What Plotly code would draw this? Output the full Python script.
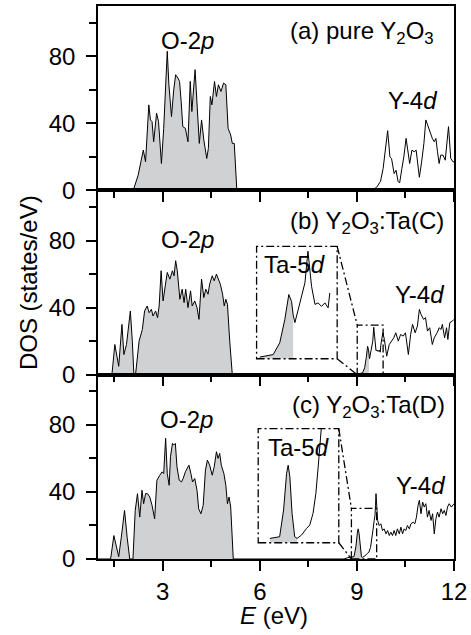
import plotly.graph_objects as go

# ---------------- data ----------------
# (a) pure Y2O3
E_a = [1.0, 2.09, 2.24, 2.35, 2.40, 2.47, 2.57, 2.62, 2.67, 2.72, 2.81, 2.87, 2.96, 3.03, 3.14, 3.19,
       3.27, 3.34, 3.40, 3.47, 3.52, 3.57, 3.62, 3.70, 3.78, 3.85, 3.90, 4.00, 4.08, 4.13, 4.20, 4.27,
       4.36, 4.41, 4.47, 4.52, 4.60, 4.66, 4.72, 4.80, 4.88, 4.95, 5.02, 5.10, 5.15, 5.21, 5.29,
       9.455, 9.61, 9.73, 9.81, 9.89, 9.95, 10.02, 10.07, 10.15, 10.21, 10.27, 10.32, 10.39, 10.45,
       10.52, 10.58, 10.63, 10.70, 10.77, 10.83, 10.88, 10.93, 11.00, 11.07, 11.13, 11.18, 11.23,
       11.28, 11.33, 11.39, 11.44, 11.49, 11.54, 11.59, 11.66, 11.73, 11.83, 11.90, 11.97, 12.0]
dos_a = [0, 0, 9, 20, 24, 17, 51, 42, 41, 29, 46, 41, 16, 37, 83, 63,
         44, 60, 69, 67, 65, 53, 38, 37, 29, 65, 47, 72, 47, 28, 42, 30,
         19, 25, 56, 51, 65, 56, 63, 59, 64, 63, 37, 33, 28, 28, 0,
         0, 1.8, 5.4, 13, 27, 35.6, 20, 19, 10, 12, 5.4, 4.4, 13, 20,
         31, 22, 16, 24, 23, 24, 17, 7.8, 17, 28, 42, 39, 36,
         34, 31, 29, 31, 23, 16, 21, 21, 18, 38, 19, 17, 17]

# (b) Y2O3:Ta(C)
E_b = [1.0, 1.43, 1.52, 1.57, 1.64, 1.74, 1.80, 1.88, 2.00, 2.06, 2.11, 2.16, 2.27, 2.37, 2.44, 2.52,
       2.58, 2.65, 2.70, 2.78, 2.84, 2.89, 2.95, 3.01, 3.08, 3.14, 3.22, 3.30, 3.35, 3.40, 3.45, 3.53,
       3.60, 3.66, 3.71, 3.78, 3.86, 3.91, 3.99, 4.06, 4.12, 4.20, 4.27, 4.33, 4.40, 4.45, 4.53, 4.59,
       4.66, 4.72, 4.78, 4.85, 4.90, 4.95, 5.00, 5.07, 5.15,
       9.0, 9.043, 9.175, 9.24, 9.29, 9.33, 9.357, 9.373, 9.39, 9.44, 9.49, 9.52, 9.556, 9.59, 9.62,
       9.655, 9.688, 9.72, 9.737,
       9.80, 9.85, 9.92, 10.0, 10.07, 10.14, 10.20, 10.28, 10.35, 10.43, 10.50, 10.59, 10.66, 10.72,
       10.80, 10.87, 10.93, 10.98, 11.06, 11.12, 11.18, 11.25, 11.33, 11.39, 11.48, 11.54, 11.60,
       11.64, 11.71, 11.77, 11.81, 11.87, 11.95, 12.0]
dos_b = [0, 0, 18, 12, 5, 30, 12, 18, 38, 20, 0, 0, 20, 27, 38, 41,
         37, 39, 35, 38, 34, 41, 62, 44, 54, 61, 57, 62, 59, 68, 62, 45,
         51, 43, 51, 40, 50, 41, 44, 40, 33, 57, 46, 51, 48, 54, 59, 56,
         60, 57, 54, 48, 41, 45, 42, 20, 0,
         0, 0.45, 1.1, 4.2, 10.3, 16.9, 15.1, 11.6, 9.5, 14.7, 20, 28.3, 19, 14.3, 14.7,
         13.8, 14.7, 13.4, 17.3,
         25, 21, 11, 18, 20, 22, 25, 20, 24, 23, 25, 12, 24, 30,
         25, 29, 39, 36, 33, 34, 26, 28, 18, 22, 25, 28, 27,
         30, 22, 28, 21, 31, 32, 33]

# (c) Y2O3:Ta(D)
E_c = [1.0, 1.39, 1.49, 1.57, 1.64, 1.72, 1.82, 1.90, 1.98, 2.08, 2.15, 2.22, 2.29, 2.36, 2.41, 2.47,
       2.53, 2.60, 2.67, 2.75, 2.82, 2.91, 2.98, 3.03, 3.09, 3.14, 3.20, 3.24, 3.30, 3.34, 3.39, 3.44,
       3.51, 3.58, 3.63, 3.70, 3.76, 3.81, 3.87, 3.92, 3.99, 4.06, 4.11, 4.18, 4.25, 4.32, 4.38, 4.45,
       4.53, 4.59, 4.66, 4.71, 4.76, 4.81, 4.89, 4.95, 5.00, 5.05, 5.10, 5.18,
       8.6, 8.76, 8.91, 8.97, 9.016, 9.04, 9.066, 9.10, 9.14, 9.177, 9.245, 9.32, 9.37, 9.42, 9.463,
       9.499, 9.534, 9.559, 9.575, 9.59, 9.64, 9.69, 9.74, 9.79, 9.84, 9.90, 9.95, 10.0, 10.05, 10.10,
       10.15, 10.20, 10.25, 10.31, 10.36, 10.41, 10.46, 10.51, 10.56, 10.62, 10.67, 10.74, 10.79,
       10.84, 10.89, 10.93, 10.98, 11.03, 11.08, 11.13, 11.18, 11.23, 11.29, 11.34, 11.39, 11.44,
       11.49, 11.54, 11.60, 11.65, 11.70, 11.75, 11.80, 11.85, 11.92, 12.0]
dos_c = [0, 0, 14, 7, 1.4, 13, 29, 13, 0, 0, 29, 39, 25, 41, 33, 39,
         39, 37, 32, 24, 47, 50, 52, 51, 72, 51, 44, 61, 69, 68, 69, 55,
         47, 46, 48, 52, 54, 56, 51, 46, 48, 41, 30, 27, 32, 53, 59, 56,
         50, 55, 64, 60, 63, 56, 51, 44, 33, 37, 31, 0,
         0, 1.0, 1.4, 7.6, 16.1, 18, 15.3, 6.8, 1.4, 1.0, 1.8, 3.3, 4.1, 6.8, 11.4,
         17.6, 23, 26.1, 32, 39, 23, 20, 21, 17, 18, 15, 17, 14, 16, 14,
         17, 14, 18, 15, 19, 15, 18, 17, 20, 18, 21, 22, 21,
         25, 32, 35, 27, 34, 31, 33, 25, 29, 23, 27, 15, 24,
         28, 25, 30, 27, 29, 26, 31, 33, 31, 33]

# shaded (occupied / Ta) energy windows
fill_a = [(1.0, 5.4)]
fill_b = [(1.0, 5.4), (9.0, 9.373)]
fill_c = [(1.0, 5.4), (8.76, 9.177)]
# energy windows shown magnified in the insets
inset_b_window = (9.04, 9.74)
inset_c_window = (8.76, 9.58)

GREY = "rgb(208,209,211)"
FONT = "Liberation Sans, Arial, Helvetica, sans-serif"
FS = 24


def subset(E, D, lo, hi):
    xs, ys = [], []
    for e, d in zip(E, D):
        if lo <= e <= hi:
            xs.append(e)
            ys.append(d)
    return xs, ys


fig = go.Figure()

panels = [("x", "y", E_a, dos_a, fill_a), ("x2", "y2", E_b, dos_b, fill_b), ("x3", "y3", E_c, dos_c, fill_c)]
for xa, ya, E, D, fills in panels:
    for lo, hi in fills:
        xs, ys = subset(E, D, lo, hi)
        fig.add_trace(go.Scatter(x=xs, y=ys, xaxis=xa, yaxis=ya, mode="lines", fill="tozeroy",
                                 fillcolor=GREY, line=dict(width=0, color=GREY),
                                 hoverinfo="skip", showlegend=False))
    fig.add_trace(go.Scatter(x=E, y=D, xaxis=xa, yaxis=ya, mode="lines",
                             line=dict(color="black", width=1), showlegend=False))

# insets
insets = [("x5", "y7", E_b, dos_b, fill_b[1], inset_b_window),
          ("x6", "y8", E_c, dos_c, fill_c[1], inset_c_window)]
for xa, ya, E, D, fwin, win in insets:
    xs, ys = subset(E, D, *fwin)
    fig.add_trace(go.Scatter(x=xs, y=ys, xaxis=xa, yaxis=ya, mode="lines", fill="tozeroy",
                             fillcolor=GREY, line=dict(width=0, color=GREY),
                             hoverinfo="skip", showlegend=False))
    xs, ys = subset(E, D, *win)
    fig.add_trace(go.Scatter(x=xs, y=ys, xaxis=xa, yaxis=ya, mode="lines",
                             line=dict(color="black", width=1), showlegend=False))

tickfont = dict(family=FONT, size=FS, color="black")
xcommon = dict(range=[1, 12], tickmode="linear", tick0=0, dtick=3, ticks="outside", ticklen=10,
               tickwidth=1.5, tickcolor="black", showline=True, linecolor="black", linewidth=1.5,
               mirror=True, showgrid=False, zeroline=False, tickfont=tickfont,
               minor=dict(ticks="outside", ticklen=6, tickwidth=1.5, tickcolor="black",
                          tick0=0, dtick=1.5, showgrid=False))
ycommon = dict(range=[0, 110], tickmode="linear", tick0=0, dtick=40, ticks="outside", ticklen=10,
               tickwidth=1.5, tickcolor="black", showline=True, linecolor="black", linewidth=1.5,
               mirror=True, showgrid=False, zeroline=False, tickfont=tickfont, ticklabelstandoff=6,
               minor=dict(ticks="outside", ticklen=7, tickwidth=1.5, tickcolor="black",
                          tick0=0, dtick=20, showgrid=False))
yright = dict(range=[0, 110], tickmode="linear", tick0=0, dtick=20, ticks="inside", ticklen=4,
              tickwidth=1.5, tickcolor="black", showticklabels=False, showgrid=False,
              zeroline=False, showline=False, side="right")

doms = {"y": [2 / 3, 1], "y2": [1 / 3, 2 / 3], "y3": [0, 1 / 3]}

# inset boxes (in panel data coordinates)
box_b = dict(x0=5.90, x1=8.39, y0=9.5, y1=76.6)
box_c = dict(x0=5.95, x1=8.44, y0=9.7, y1=77.8)
small_b = dict(x0=9.01, x1=9.81, y0=0, y1=29.6)
small_c = dict(x0=8.83, x1=9.61, y0=0, y1=30.2)


def xdom(b):
    return [(b["x0"] - 1) / 11, (b["x1"] - 1) / 11]


def ydom(b, base):
    return [base + b["y0"] / 110 / 3, base + b["y1"] / 110 / 3]


fig.update_layout(
    width=471, height=635, paper_bgcolor="white", plot_bgcolor="white",
    margin=dict(l=98, r=17, t=4, b=76), showlegend=False,
    font=dict(family=FONT, size=FS, color="black"),
    xaxis=dict(xcommon, anchor="y", showticklabels=False),
    xaxis2=dict(xcommon, anchor="y2", showticklabels=False),
    xaxis3=dict(xcommon, anchor="y3", showticklabels=True),
    xaxis4=dict(range=[1, 12], overlaying="x", anchor="y", side="top", tickmode="linear", tick0=0,
                dtick=3, ticks="inside", ticklen=10, tickwidth=1.5, tickcolor="black",
                showticklabels=False, showgrid=False, zeroline=False, showline=False,
                minor=dict(ticks="inside", ticklen=6, tickwidth=1.5, tickcolor="black",
                           tick0=0, dtick=1.5, showgrid=False)),
    yaxis=dict(ycommon, domain=doms["y"], anchor="x"),
    yaxis2=dict(ycommon, domain=doms["y2"], anchor="x2"),
    yaxis3=dict(ycommon, domain=doms["y3"], anchor="x3"),
    yaxis4=dict(yright, overlaying="y", anchor="x"),
    yaxis5=dict(yright, overlaying="y2", anchor="x2"),
    yaxis6=dict(yright, overlaying="y3", anchor="x3"),
    xaxis5=dict(domain=xdom(box_b), range=[small_b["x0"], small_b["x1"]], anchor="y7", visible=False),
    yaxis7=dict(domain=ydom(box_b, 1 / 3), range=[small_b["y0"], small_b["y1"]], anchor="x5", visible=False),
    xaxis6=dict(domain=xdom(box_c), range=[8.582, 9.814], anchor="y8", visible=False),
    yaxis8=dict(domain=ydom(box_c, 0), range=[0, 26.5], anchor="x6", visible=False),
)

DASH = "8px,3px,2px,3px"
lw = 1.3
shapes = []
for xr, yr, big, small in [("x2", "y2", box_b, small_b), ("x3", "y3", box_c, small_c)]:
    shapes.append(dict(type="rect", xref=xr, yref=yr, **big, line=dict(color="black", width=lw, dash=DASH)))
    shapes.append(dict(type="rect", xref=xr, yref=yr, **small, line=dict(color="black", width=lw, dash=DASH)))
    shapes.append(dict(type="line", xref=xr, yref=yr, x0=big["x1"], y0=big["y1"], x1=small["x0"], y1=small["y1"],
                       line=dict(color="black", width=lw, dash=DASH)))
    shapes.append(dict(type="line", xref=xr, yref=yr, x0=big["x1"], y0=big["y0"], x1=small["x0"], y1=small["y0"],
                       line=dict(color="black", width=lw, dash=DASH)))
fig.update_layout(shapes=shapes)

ann = []


def label(text, xr, yr, x, y, xanchor="center"):
    ann.append(dict(text=text, xref=xr, yref=yr, x=x, y=y, xanchor=xanchor, yanchor="middle",
                    showarrow=False, font=dict(family=FONT, size=FS, color="black")))


label("O-2<i>p</i>", "x", "y", 3.78, 89.5)
label("(a) pure Y<sub>2</sub>O<sub>3</sub>", "x", "y", 11.45, 94, "right")
label("Y-4<i>d</i>", "x", "y", 10.72, 53.5)
label("O-2<i>p</i>", "x2", "y2", 3.77, 80.5)
label("(b) Y<sub>2</sub>O<sub>3</sub>:Ta(C)", "x2", "y2", 11.75, 91, "right")
label("Ta-5<i>d</i>", "x2", "y2", 7.08, 65.5)
label("Y-4<i>d</i>", "x2", "y2", 10.92, 48)
label("O-2<i>p</i>", "x3", "y3", 3.74, 83)
label("(c) Y<sub>2</sub>O<sub>3</sub>:Ta(D)", "x3", "y3", 11.78, 91, "right")
label("Ta-5<i>d</i>", "x3", "y3", 7.18, 66.5)
label("Y-4<i>d</i>", "x3", "y3", 10.95, 44)

ann.append(dict(text="DOS (states/eV)", xref="paper", yref="paper", x=-0.195, y=0.5, textangle=-90,
                showarrow=False, xanchor="center", yanchor="middle",
                font=dict(family=FONT, size=FS, color="black")))
ann.append(dict(text="<i>E</i> (eV)", xref="paper", yref="paper", x=0.495, y=-0.103,
                showarrow=False, xanchor="center", yanchor="middle",
                font=dict(family=FONT, size=FS, color="black")))
fig.update_layout(annotations=ann)

fig.write_html("out.html", config={"displayModeBar": False},
               post_script="document.body.style.margin='0px';document.body.style.padding='0px';")
